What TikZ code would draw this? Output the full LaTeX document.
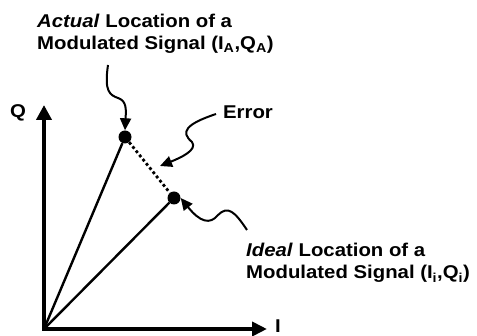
\documentclass[tikz,border=0pt]{standalone}
\usepackage{fontspec}
\setmainfont{Liberation Sans}
\newfontfamily\lblfont[FakeStretch=1.1]{Liberation Sans}
\usetikzlibrary{arrows.meta}

\begin{document}
\begin{tikzpicture}[x=1pt, y=-1pt,
  axis/.style={line width=4pt, {Triangle[length=15pt,width=15pt]}-{Triangle[length=15pt,width=14pt]}},
  vec/.style={line width=2.4pt},
  dot/.style={circle, fill, inner sep=0pt, minimum size=13pt},
  pointer/.style={line width=2pt, -{Triangle[length=12pt,width=11pt]}},
  lbl/.style={font=\lblfont\bfseries\fontsize{18.5}{22}\selectfont, align=left, inner sep=0pt}
]
\useasboundingbox (0,0) rectangle (477,336);

\coordinate (orig) at (44,329);
\coordinate (qend) at (44,105);
\coordinate (iend) at (267,329);
\node[dot] (actual) at (125,137) {};
\node[dot] (ideal) at (174,198) {};

% labels
\node[lbl] (qlbl) at (18,113) {Q};
\node[lbl] (ilbl) at (278,326) {I};
\node[lbl, anchor=north west] (actlbl) at (37,14) {\textit{Actual} Location of a\\Modulated Signal (I\textsubscript{A},Q\textsubscript{A})};
\node[lbl] (errlbl) at (248,112) {Error};
\node[lbl, anchor=north west] (idllbl) at (246,243) {\textit{Ideal} Location of a\\Modulated Signal (I\textsubscript{i},Q\textsubscript{i})};

% axes and vectors
\draw[axis] (qend) -- (orig) -- (iend);
\draw[vec] (orig) -- (actual);
\draw[vec] (orig) -- (ideal);
\draw[line width=2.8pt, dash pattern=on 2.8pt off 2.6pt] (actual) -- (ideal);

% pointers
\coordinate (actfrom) at (108,65);
\coordinate (errfrom) at (216,114);
\coordinate (idlfrom) at (247,230);
\draw[pointer] (actfrom) .. controls (104,92) and (110,95) .. (118,98)
  .. controls (127,101) and (126,110) .. (actual.north);
\draw[pointer] (errfrom) .. controls (186,124) and (180,132) .. (192,142)
  .. controls (198,150) and (180,158) .. (160,166);
\draw[pointer] (idlfrom) .. controls (235,212) and (228,205) .. (218,215)
  .. controls (210,225) and (200,222) .. (ideal.east);
\end{tikzpicture}
\end{document}
